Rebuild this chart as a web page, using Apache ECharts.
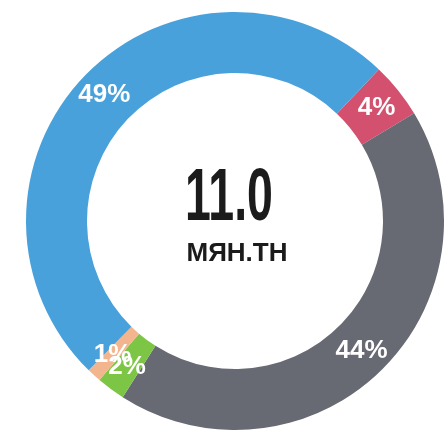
<!DOCTYPE html>
<html>
<head>
<meta charset="utf-8">
<script src="https://cdn.jsdelivr.net/npm/echarts@6/dist/echarts.min.js"></script>
<style>
    html, body { margin: 0; padding: 0; background: #fff; }
    #myChart { width: 444px; height: 434px; }
</style>
</head>
<body>
<div id="myChart"></div>
<script>
// slices clockwise, starting from the red one at the upper right
var names = ['Red', 'Gray', 'Green', 'Orange', 'Blue'];
var values = [4.3, 42.6, 2.2, 1.1, 49.7];
var labels = ['4%', '44%', '2%', '1%', '49%'];
var colors = ['#d3506f', '#676973', '#7dc645', '#f2b58e', '#49a1dc'];
var total = '11.0';
var unit = 'МЯН.ТН';

var donutSet = function (obj) {
    var myChart = echarts.init(obj),
        data = [];
    for (var i = 0; i < values.length; i++) {
        data.push({name: names[i], value: values[i], itemStyle: {color: colors[i]}});
    }
    var option = {
        animation: false,
        graphic: [
            {
                type: 'text',
                x: 229,
                y: 199,
                scaleX: 0.62,
                style: {
                    text: total,
                    fill: '#1b1b1b',
                    font: 'bold 75px "Liberation Sans Narrow", "Liberation Sans", sans-serif',
                    textAlign: 'center',
                    textVerticalAlign: 'middle',
                    shadowBlur: 4,
                    shadowColor: 'rgba(0,0,0,0.35)',
                    shadowOffsetX: 1,
                    shadowOffsetY: 2
                }
            },
            {
                type: 'text',
                x: 237,
                y: 254,
                style: {
                    text: unit,
                    fill: '#1b1b1b',
                    font: 'bold 26px "Liberation Sans", sans-serif',
                    textAlign: 'center',
                    textVerticalAlign: 'middle',
                    shadowBlur: 3,
                    shadowColor: 'rgba(0,0,0,0.3)',
                    shadowOffsetY: 1
                }
            }
        ],
        series: [{
            type: 'pie',
            center: [235, 221],
            radius: [148, 209],
            startAngle: 46.5,
            clockwise: true,
            avoidLabelOverlap: false,
            minShowLabelAngle: 0,
            silent: true,
            label: {
                show: true,
                position: 'inside',
                color: '#fff',
                fontFamily: '"Liberation Sans", sans-serif',
                fontWeight: 'bold',
                fontSize: 26,
                overflow: 'none',
                formatter: function (p) {
                    return labels[p.dataIndex];
                }
            },
            labelLayout: {hideOverlap: false},
            labelLine: {show: false},
            itemStyle: {borderWidth: 0},
            data: data
        }]
    };
    myChart.setOption(option);
};

donutSet(document.getElementById('myChart'));
</script>
</body>
</html>
